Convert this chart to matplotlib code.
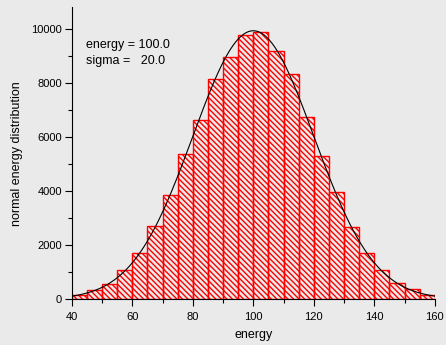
import numpy as np
import matplotlib
matplotlib.use('Agg')
import matplotlib.pyplot as plt

plt.rcParams['font.family'] = ['Liberation Sans', 'DejaVu Sans']
plt.rcParams['hatch.linewidth'] = 1.0

# histogram bins (left edges) and counts
bin_left = [40, 45, 50, 55, 60, 65, 70, 75, 80, 85, 90, 95,
            100, 105, 110, 115, 120, 125, 130, 135, 140, 145, 150, 155]
counts = [160, 333, 560, 1090, 1690, 2710, 3850, 5380, 6630, 8160, 8960, 9760,
          9870, 9180, 8330, 6730, 5300, 3970, 2660, 1700, 1060, 590, 370, 170]
bin_width = 5

# fitted gaussian parameters (shown in the chart)
energy = 100.0
sigma = 20.0
amplitude = 9930

bg = '#eaeaea'
fig = plt.figure(figsize=(4.46, 3.45), dpi=100, facecolor=bg)
ax = fig.add_axes([0.161, 0.133, 0.814, 0.846], facecolor=bg)

ax.bar(bin_left, counts, width=bin_width, align='edge', color='none',
       edgecolor='red', hatch='\\' * 6, linewidth=1.0)

xs = np.linspace(40, 160, 400)
ax.plot(xs, amplitude * np.exp(-(xs - energy) ** 2 / (2 * sigma ** 2)),
        color='black', linewidth=0.8)

ax.set_xlim(40, 160)
ax.set_ylim(0, 10800)
ax.set_xticks([40, 60, 80, 100, 120, 140, 160])
ax.set_xticks(np.arange(50, 160, 20), minor=True)
ax.set_yticks([0, 2000, 4000, 6000, 8000, 10000])
ax.set_yticks(np.arange(1000, 10001, 2000), minor=True)
ax.tick_params(axis='both', which='major', length=5, width=0.8, labelsize=8, pad=2)
ax.tick_params(axis='x', which='major', pad=4)
ax.tick_params(axis='both', which='minor', length=3, width=0.8)

for s in ['top', 'right']:
    ax.spines[s].set_visible(False)
ax.spines['left'].set_linewidth(0.8)
ax.spines['bottom'].set_linewidth(0.8)

ax.set_xlabel('energy', fontsize=9, labelpad=5)
ax.set_ylabel('normal energy distribution', fontsize=9, labelpad=6)

ax.text(0.038, 0.89, 'energy = 100.0\nsigma =   20.0', transform=ax.transAxes,
        fontsize=9, va='top', ha='left', linespacing=1.45)

fig.savefig('out.png', dpi=100, facecolor=bg)
